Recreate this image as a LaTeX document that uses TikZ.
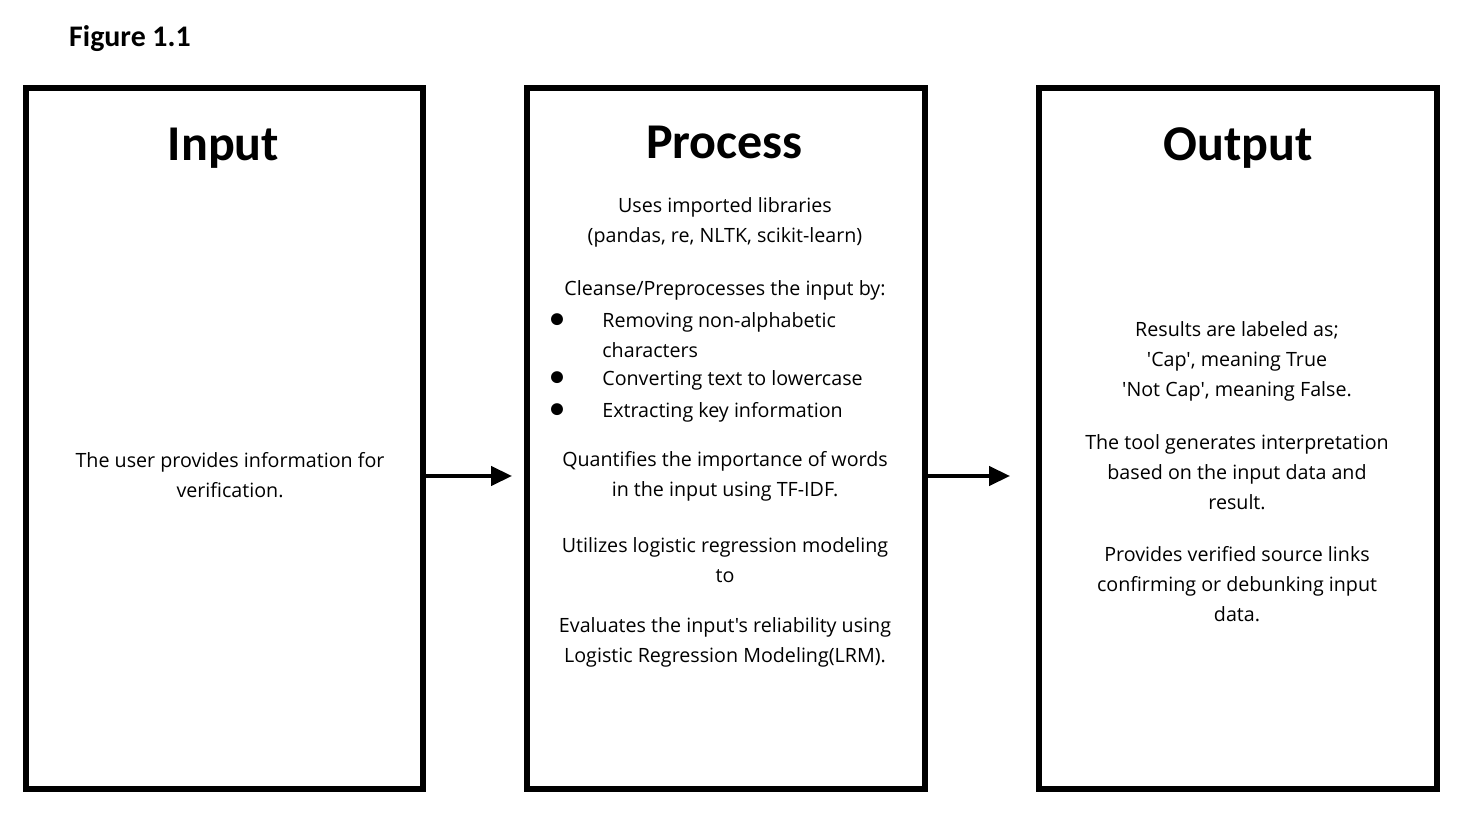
\documentclass[tikz,border=0pt]{standalone}
\usepackage{fontspec}
\setmainfont{Carlito}
\newfontfamily\bodyfont{Open Sans}[Ligatures=TeXOff]
\usetikzlibrary{arrows.meta}

\tikzset{
  box/.style={draw, line width=0.12cm, minimum width=7.96cm, minimum height=14.02cm, inner sep=0pt},
  title/.style={font=\bfseries\fontsize{28.5}{34}\selectfont, inner sep=0pt, anchor=base},
  body/.style={font=\bodyfont\fontsize{11.2}{17.1}\selectfont, align=center, inner sep=0pt},
  item/.style={body, anchor=west, align=left},
  dot/.style={font=\bfseries\fontsize{16}{17.1}\selectfont, inner sep=0pt, anchor=base},
  arr/.style={line width=0.08cm, -{Triangle[length=0.42cm,width=0.38cm]}}
}

\begin{document}
\begin{tikzpicture}[x=0.02cm,y=-0.02cm]
\useasboundingbox (0,0) rectangle (1462,817);
\node[font=\bfseries\fontsize{17}{20}\selectfont, inner sep=0pt] (fig) at (130,39) {Figure 1.1};
% the three boxes
\node[box] (inp) at (224.5,438.5) {};
\node[box] (proc) at (726,438.5) {};
\node[box] (outp) at (1238,438.5) {};
\node[title] (tinp) at (223.5,161) {Input};
\node[title] (tproc) at (724.5,159) {Process};
\node[title] (toutp) at (1238,161) {Output};
% input
\node[body] (i1) at (230,475.5) {The user provides information for\\verification.};
% process
\node[body] (p1) at (725,222.5) {Uses imported libraries\\(pandas, re, NLTK, scikit-learn)};
\node[body] (p2) at (725,290) {Cleanse/Preprocesses the input by:};
\node[item] (s1) at (602,335) {Removing non-alphabetic\\characters};
\node[item] (s2) at (602,380) {Converting text to lowercase};
\node[item] (s3) at (602,412) {Extracting key information};
\coordinate (l1) at ([yshift=0.6cm]s1.base);
\node[dot] (b1) at (l1 -| 557,0) {•};
\node[dot] (b2) at (s2.base -| 557,0) {•};
\node[dot] (b3) at (s3.base -| 557,0) {•};
\node[body] (p3) at (725,476.5) {Quantifies the importance of words\\in the input using TF-IDF.};
\node[body] (p4) at (725,560) {Utilizes logistic regression modeling\\to};
\node[body] (p5) at (725,642.5) {Evaluates the input's reliability using\\Logistic Regression Modeling(LRM).};
% output
\node[body] (o1) at (1237,361.5) {Results are labeled as;\\'Cap', meaning True\\'Not Cap', meaning False.};
\node[body] (o2) at (1237,472.5) {The tool generates interpretation\\based on the input data and\\result.};
\node[body] (o3) at (1237,584.5) {Provides verified source links\\confirming or debunking input\\data.};
% arrows
\draw[arr] ([yshift=-0.75cm]inp.east) -- ([yshift=-0.75cm,xshift=-0.24cm]proc.west);
\draw[arr] ([yshift=-0.75cm]proc.east) -- ([yshift=-0.75cm,xshift=-0.52cm]outp.west);
\end{tikzpicture}
\end{document}
